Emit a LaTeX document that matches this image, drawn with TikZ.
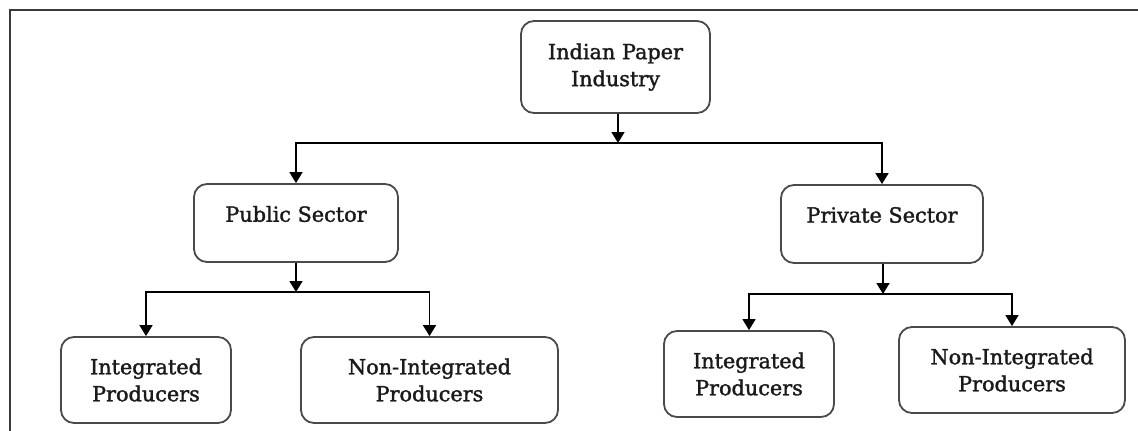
\documentclass[tikz,border=0pt]{standalone}
\usepackage{fontspec}
\setmainfont{DejaVu Serif}
\newfontfamily\boxfont{DejaVu Serif}[RawFeature={embolden=1.6}]
\usetikzlibrary{arrows.meta}
\definecolor{boxline}{HTML}{4A4A4A}
\definecolor{frameline}{HTML}{3A3A3A}
\definecolor{txt}{HTML}{1A1A1A}
\begin{document}
\begin{tikzpicture}[x=1pt,y=-1pt,
  orgbox/.style={draw=boxline,line width=1.8pt,rounded corners=13pt,
    align=center,text=txt,inner sep=0pt,
    font=\boxfont\fontsize{20.8pt}{27pt}\selectfont},
  arr/.style={draw=black,line width=1.6pt,-{Triangle[width=13pt,length=11pt]}}]
\useasboundingbox (0,0) rectangle (1138,431);
\draw[frameline,line width=2.2pt] (10,431) -- (10,10) -- (1138,10);

\node[orgbox,minimum width=189pt,minimum height=92pt] (top) at (615.5,67) {Indian Paper\\Industry};
\node[orgbox,minimum width=204pt,minimum height=78pt] (pub) at (296,223) {\raisebox{9pt}[\height][\depth]{Public Sector}};
\node[orgbox,minimum width=202pt,minimum height=78pt] (priv) at (882,224) {\raisebox{9pt}[\height][\depth]{Private Sector}};
\node[orgbox,minimum width=170pt,minimum height=86pt] (i1) at (146,380) {Integrated\\Producers};
\node[orgbox,minimum width=257pt,minimum height=86pt] (n1) at (429.5,380) {Non-Integrated\\Producers};
\node[orgbox,minimum width=170pt,minimum height=86pt] (i2) at (749,374) {Integrated\\Producers};
\node[orgbox,minimum width=226pt,minimum height=86pt] (n2) at (1012,370) {Non-Integrated\\Producers};

\coordinate (b1) at (618,143);
\coordinate (b2) at (296,292);
\coordinate (b3) at (883,294);

\draw[arr] (top.south -| b1) -- (b1);
\draw[arr] (b1) -| (pub.north);
\draw[arr] (b1) -| (priv.north);

\draw[arr] (pub.south -| b2) -- (b2);
\draw[arr] (b2) -| (i1.north);
\draw[arr] (b2) -| (n1.north);

\draw[arr] (priv.south -| b3) -- (b3);
\draw[arr] (b3) -| (i2.north);
\draw[arr] (b3) -| (n2.north);
\end{tikzpicture}
\end{document}
